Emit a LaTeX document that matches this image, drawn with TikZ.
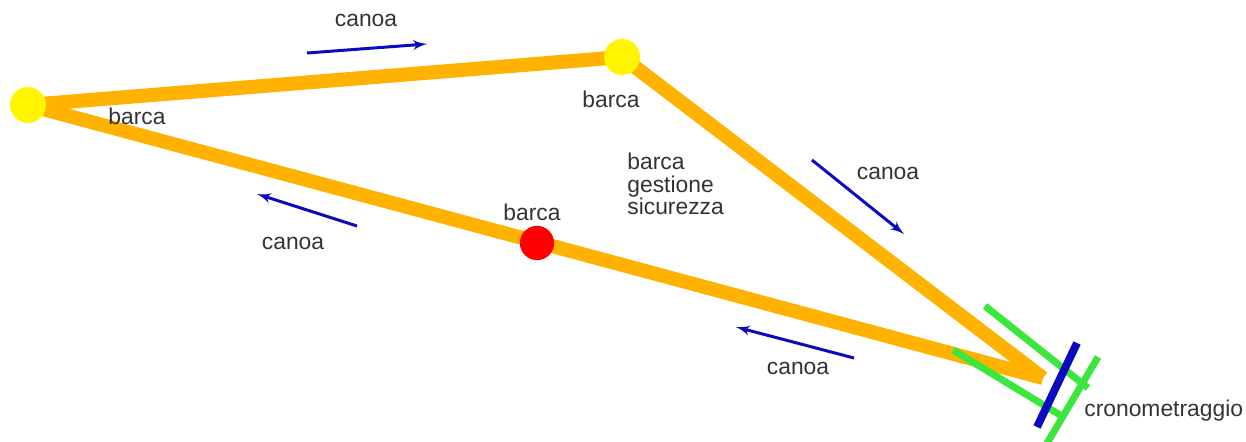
\documentclass[tikz,border=0pt]{standalone}
\usepackage{fontspec}
\setmainfont{Liberation Sans}
\usepackage{tikz}
\usetikzlibrary{arrows}
\usetikzlibrary{calc}
\usetikzlibrary{positioning}
\definecolor{percorso}{RGB}{255,178,0}
\definecolor{boa}{RGB}{255,245,0}
\definecolor{bluarrow}{RGB}{10,10,190}
\definecolor{verde}{RGB}{60,230,60}
\tikzstyle{tratto} = [draw=percorso, line width=8pt]
\tikzstyle{giallo} = [circle, fill=boa, minimum size=20.5pt, inner sep=0pt]
\tikzstyle{rosso} = [circle, fill=red, minimum size=19.5pt, inner sep=0pt]
\tikzstyle{freccia} = [->, draw=bluarrow, line width=1.7pt]
\tikzstyle{linea} = [draw=verde, line width=4pt]
\tikzstyle{testo} = [text=black!80, font=\fontsize{13}{15}\selectfont, inner sep=0pt]

\begin{document}
\begin{tikzpicture}[x=0.02cm, y=-0.02cm, >=latex']
    \useasboundingbox (0,0) rectangle (1246,441);
    \coordinate (boa1) at (28,105);
    \coordinate (boa2) at (622,57);
    \coordinate (boa3) at (537,243);
    \coordinate (arrivo) at (1043,378);
    % percorso
    \draw [tratto] (boa1) -- (boa2);
    \draw [tratto] (boa2) -- (arrivo);
    \draw [tratto] (boa1) -- (arrivo);
    \node [giallo] at (boa1) (sx) {};
    \node [giallo] at (boa2) (top) {};
    \node [rosso] at (boa3) (sicurezza) {};
    % arrivo
    \coordinate (g1a) at (985,306);
    \coordinate (g1b) at (1088,388);
    \coordinate (g2a) at (953,350);
    \coordinate (g2b) at (1065,418);
    \coordinate (g3a) at (1098,357);
    \coordinate (g3b) at (1046,445);
    \coordinate (b1) at (1077,343);
    \coordinate (b2) at (1037,427);
    \draw [linea] (g1a) -- (g1b);
    \draw [linea] (g2a) -- (g2b);
    \draw [linea] (g3a) -- (g3b);
    \draw [draw=bluarrow, line width=4.5pt] (b1) -- (b2);
    % frecce
    \coordinate (f1a) at (307,53);
    \coordinate (f1b) at (427,44);
    \coordinate (f2a) at (812,160);
    \coordinate (f2b) at (904,234);
    \coordinate (f3a) at (357,226);
    \coordinate (f3b) at (257,194);
    \coordinate (f4a) at (854,358);
    \coordinate (f4b) at (736,327);
    \draw [freccia] (f1a) -- (f1b);
    \draw [freccia] (f2a) -- (f2b);
    \draw [freccia] (f3a) -- (f3b);
    \draw [freccia] (f4a) -- (f4b);
    % etichette
    \node [testo] at (366,20) (c1) {canoa};
    \node [testo] at (888,173) (c2) {canoa};
    \node [testo] at (293,243) (c3) {canoa};
    \node [testo] at (798,368) (c4) {canoa};
    \node [testo] at (137,116) (l1) {barca};
    \node [testo] at (611,99) (l2) {barca};
    \node [testo] at (532,212) (l3) {barca};
    \node [testo, align=left, anchor=west, font=\fontsize{13}{12.8}\selectfont] at (627,184) (l4) {barca\\gestione\\sicurezza};
    \node [testo, anchor=west] at (1084,411) (crono) {cronometraggio};
\end{tikzpicture}
\end{document}
